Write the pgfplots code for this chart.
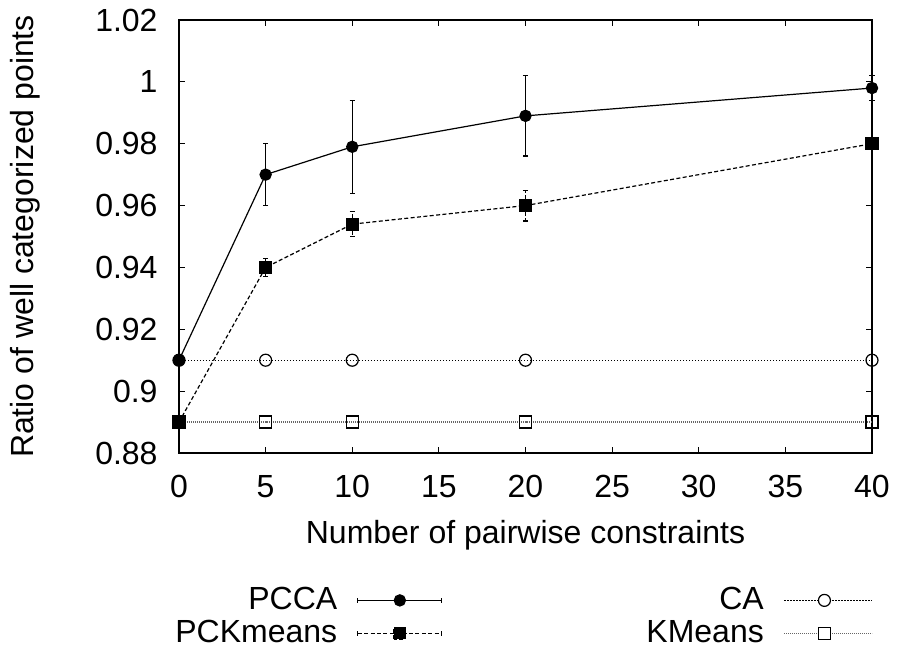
\documentclass[border=0pt]{standalone}
\usepackage{fontspec}
\setmainfont{Liberation Sans}
\usepackage{pgfplots}
\pgfplotsset{compat=1.18}

\begin{document}
\fontsize{16}{19}\selectfont
\begin{tikzpicture}
\path[use as bounding box] (-89.5pt,-99pt) rectangle (359.5pt,226.5pt);
\begin{axis}[
  at={(0pt,0pt)}, anchor=south west,
  width=346.5pt, height=216.5pt, scale only axis,
  xmin=0, xmax=40, ymin=0.88, ymax=1.02,
  xtick={0,5,10,15,20,25,30,35,40},
  ytick={0.88,0.9,0.92,0.94,0.96,0.98,1,1.02},
  /pgf/number format/assume math mode=true,
  yticklabel style={/pgf/number format/fixed,/pgf/number format/precision=2,xshift=-5.2pt},
  xticklabel style={yshift=-5.7pt},
  tick align=inside, major tick length=3pt,
  tick style={black,line width=0.6pt},
  axis line style={line width=0.9pt},
  clip=false,
  xlabel={Number of pairwise constraints},
  ylabel={Ratio of well categorized points},
  every axis x label/.style={at={(axis description cs:0.5,-0.1894)},anchor=center},
  every axis y label/.style={at={(axis description cs:-0.2222,0.5)},anchor=center,rotate=90},
  legend columns=2,
  legend plot pos=right,
  legend cell align=right,
  legend style={draw=none,fill=none,inner sep=0pt,
    at={(axis description cs:0,0)},anchor=north west,xshift=-2pt,yshift=-66pt,
    nodes={inner sep=0pt,text height=12pt,text depth=3pt},
    row sep=1.5pt,
    /tikz/every odd column/.append style={column sep=10pt},
    /tikz/every even column/.append style={column sep=102pt}},
]
% PCCA
\addplot[black,line width=0.6pt,mark=*,mark size=2.8pt,
  legend image code/.code={
    \draw[line width=0.6pt] (0pt,0pt) -- (42pt,0pt);
    \draw[line width=0.6pt] (0pt,-1.3pt) -- (0pt,1.3pt) (42pt,-1.3pt) -- (42pt,1.3pt);
    \fill (21pt,0pt) circle (2.8pt);},
  error bars/.cd, y dir=both, y explicit,
  error mark=-,
  error mark options={rotate=90,mark size=1.3pt,line width=0.6pt}]
coordinates {
(0,0.910) +- (0,0)
(5,0.970) +- (0,0.010)
(10,0.979) +- (0,0.015)
(20,0.989) +- (0,0.013)
(40,0.998) +- (0,0.004)
};
\addlegendentry{PCCA}
% CA
\addplot[black,line width=0.6pt,dash pattern=on 0.6pt off 0.9pt,
  mark=o,mark size=3pt,mark options={solid},
  legend image code/.code={
    \draw[line width=0.6pt,dash pattern=on 0.6pt off 0.9pt] (0pt,0pt) -- (44pt,0pt);
    \draw[solid,line width=0.6pt,fill=white] (20pt,0pt) circle (3pt);}]
coordinates {(0,0.91) (5,0.91) (10,0.91) (20,0.91) (40,0.91)};
\addlegendentry{CA}
% PCKmeans
\addplot[black,line width=0.6pt,dash pattern=on 2pt off 1.2pt,
  mark=square*,mark size=3pt,mark options={solid},
  legend image code/.code={
    \draw[line width=0.6pt,dash pattern=on 2pt off 1.2pt] (0pt,0pt) -- (42pt,0pt);
    \draw[solid,line width=0.6pt] (0pt,-1.3pt) -- (0pt,1.3pt) (42pt,-1.3pt) -- (42pt,1.3pt);
    \fill (18pt,-3pt) rectangle (24pt,3pt);},
  error bars/.cd, y dir=both, y explicit,
  error bar style={dash pattern=on 2pt off 1.2pt},
  error mark=-,
  error mark options={rotate=90,solid,mark size=1.3pt,line width=0.6pt}]
coordinates {
(0,0.890) +- (0,0)
(5,0.940) +- (0,0.003)
(10,0.954) +- (0,0.004)
(20,0.960) +- (0,0.005)
(40,0.980) +- (0,0)
};
\addlegendentry{PCKmeans}
% KMeans
\addplot[black!60,line width=0.6pt,dash pattern=on 0.4pt off 0.6pt,
  mark=square,mark size=3pt,mark options={solid,black},
  legend image code/.code={
    \draw[black!60,line width=0.6pt,dash pattern=on 0.4pt off 0.6pt] (0pt,0pt) -- (44pt,0pt);
    \draw[solid,black,line width=0.6pt,fill=white] (17pt,-3pt) rectangle (23pt,3pt);}]
coordinates {(0,0.89) (5,0.89) (10,0.89) (20,0.89) (40,0.89)};
\addlegendentry{KMeans}
\end{axis}
\end{tikzpicture}
\end{document}
